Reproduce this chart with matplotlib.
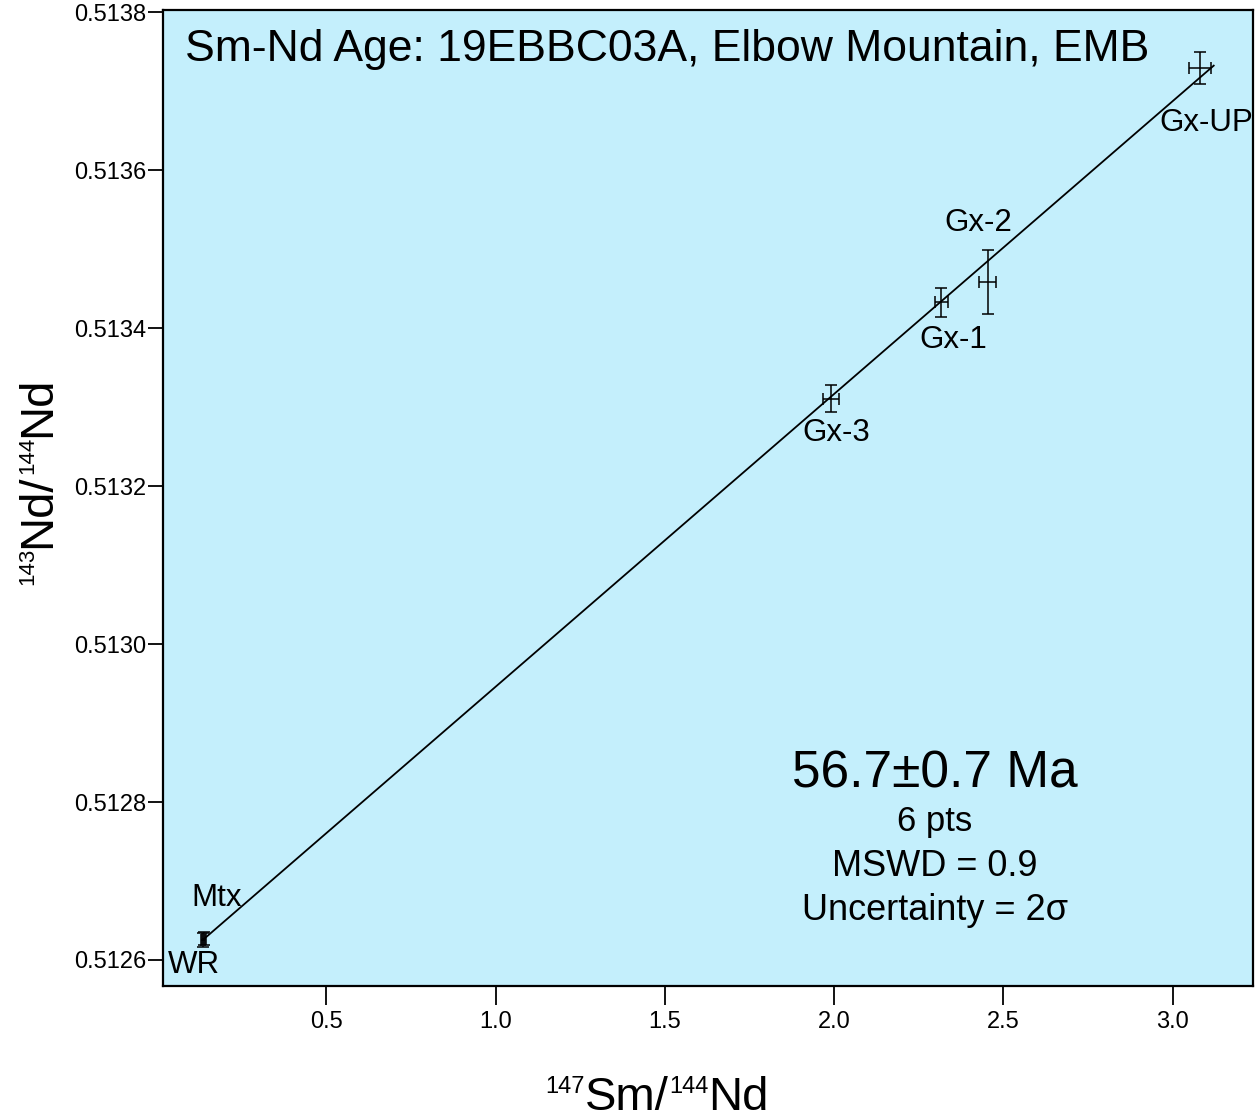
import numpy as np
import matplotlib
matplotlib.use("Agg")
import matplotlib.pyplot as plt

plt.rcParams['font.family'] = ['Liberation Sans', 'DejaVu Sans']

# ---- data ----
labels = ["WR", "Mtx", "Gx-3", "Gx-1", "Gx-2", "Gx-UP"]
sm_nd = [0.136, 0.138, 1.991, 2.317, 2.453, 3.080]
sm_nd_err = [0.006, 0.006, 0.024, 0.018, 0.025, 0.033]
nd_nd = [0.5126253, 0.5126270, 0.513311, 0.513433, 0.513458, 0.513730]
nd_nd_err = [0.0000085, 0.0000085, 0.0000171, 0.0000184, 0.0000405, 0.0000203]

age_ma = 56.7
initial_ratio = 0.512575
decay_const = 6.54e-12
iso_x_range = [0.136, 3.121]

title = "Sm-Nd Age: 19EBBC03A, Elbow Mountain, EMB"
info_lines = ["56.7\u00b10.7 Ma", "6 pts", "MSWD = 0.9", "Uncertainty = 2\u03c3"]
xticks = [0.5, 1.0, 1.5, 2.0, 2.5, 3.0]
xtick_labels = ["0.5", "1.0", "1.5", "2.0", "2.5", "3.0"]
yticks = [0.5126, 0.5128, 0.5130, 0.5132, 0.5134, 0.5136, 0.5138]
ytick_labels = ["0.5126", "0.5128", "0.5130", "0.5132", "0.5134", "0.5136", "0.5138"]

# label offsets in points (style)
label_offsets = {"WR": (-6.5, -18), "Mtx": (9.5, 29), "Gx-3": (3.5, -24.5),
                 "Gx-1": (8.5, -27.5), "Gx-2": (-6.5, 43), "Gx-UP": (4.5, -40)}

W, H = 1260, 1118
fig = plt.figure(figsize=(W / 100, H / 100), dpi=100)
ax = fig.add_axes([163 / W, 1 - 986 / H, 1090 / W, 976 / H])
ax.set_facecolor('#c4effc')

ax.set_xlim(0.018, 3.237)
ax.set_ylim(0.512567, 0.513803)

# isochron
slope = np.exp(decay_const * age_ma * 1e6) - 1
xs = np.array(iso_x_range)
ax.plot(xs, initial_ratio + slope * xs, color='black', lw=1.3, zorder=2)

ax.errorbar(sm_nd, nd_nd, xerr=sm_nd_err, yerr=nd_nd_err, fmt='none',
            ecolor='black', elinewidth=1.1, capsize=4, capthick=1.1, zorder=3)

for lab, x, y in zip(labels, sm_nd, nd_nd):
    ax.annotate(lab, (x, y), xytext=label_offsets[lab], textcoords='offset points',
                ha='center', va='center', fontsize=22.5, color='black')

ax.set_xticks(xticks)
ax.set_xticklabels(xtick_labels)
ax.set_yticks(yticks)
ax.set_yticklabels(ytick_labels)
ax.tick_params(axis='x', direction='out', length=14, width=1.3, labelsize=17, pad=4)
ax.tick_params(axis='y', direction='out', length=11, width=1.3, labelsize=17, pad=1)
for s in ax.spines.values():
    s.set_linewidth(1.6)

ax.text(0.020, 0.948, title, transform=ax.transAxes, fontsize=32,
        ha='left', va='baseline')

info_y = [0.203, 0.159, 0.1127, 0.0676]
info_sizes = [37, 25, 26, 26]
for txt, yy, fs in zip(info_lines, info_y, info_sizes):
    ax.text(0.708, yy, txt, transform=ax.transAxes, fontsize=fs,
            ha='center', va='baseline')

# composite axis labels with small superscripts
renderer = fig.canvas.get_renderer()


def measure(s, fs):
    t = fig.text(0, 0, s, fontsize=fs)
    w = t.get_window_extent(renderer).width
    t.remove()
    return w


def composite(parts, cx, cy, rotation=0):
    # parts: (text, fontsize, raise_px); cx, cy center along baseline in pixels
    widths = [measure(s, fs) for s, fs, _ in parts]
    total = sum(widths)
    pos = -total / 2
    for (s, fs, r), w in zip(parts, widths):
        if rotation == 0:
            px, py = cx + pos, cy + r
        else:
            px, py = cx - r, cy + pos
        fig.text(px / W, py / H, s, fontsize=fs, ha='left', va='baseline',
                 rotation=rotation, rotation_mode='anchor')
        pos += w


big, small = 34, 17
composite([("147", small, 17), ("Sm/", big, 0), ("144", small, 17), ("Nd", big, 0)],
          657, H - 1110)
composite([("143", small - 1, 17), ("Nd/", big, 0), ("144", small - 1, 17), ("Nd", big, 0)],
          50, H - 481, rotation=90)

fig.savefig('out.png', dpi=100)
